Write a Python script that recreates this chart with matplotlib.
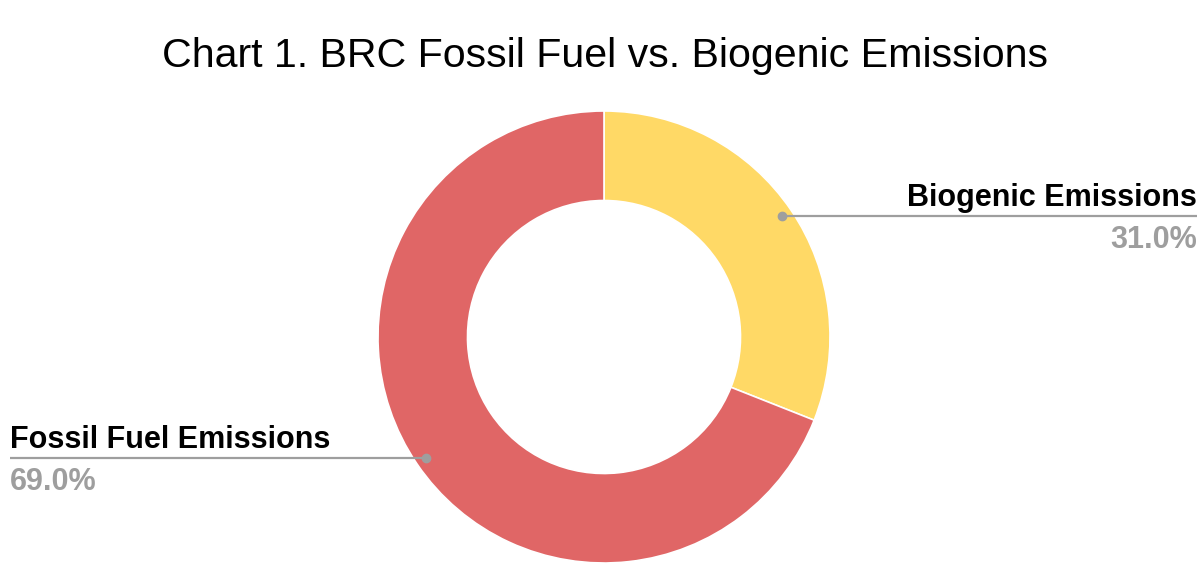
import numpy as np
import matplotlib
matplotlib.use('agg')
import matplotlib.pyplot as plt

plt.rcParams['font.family'] = ['Liberation Sans', 'DejaVu Sans']

title = 'Chart 1. BRC Fossil Fuel vs. Biogenic Emissions'
labels = ['Biogenic Emissions', 'Fossil Fuel Emissions']
values = [31.0, 69.0]
colors = ['#ffd966', '#e06666']

W, H = 1200, 565
cx, cy, R = 604, 337, 226  # donut centre / radius in pixels

fig = plt.figure(figsize=(W / 100, H / 100), dpi=100)
ax = fig.add_axes([(cx - R) / W, (H - cy - R) / H, 2 * R / W, 2 * R / H])
wedges, _ = ax.pie(values, colors=colors, startangle=90, counterclock=False,
                   radius=1, wedgeprops=dict(width=0.396, edgecolor='white', linewidth=1.2))
ax.set_xlim(-1, 1)
ax.set_ylim(-1, 1)
ax.set_aspect('equal')
ax.axis('off')

fig.text(604.5 / W, 1 - 67 / H, title, ha='center', va='baseline', fontsize=29.6, color='black')

# leader lines + labels, x in data units (1 unit = R px)
x_right = (1197 - cx) / R
x_left = (10 - cx) / R
for w, lab, val in zip(wedges, labels, values):
    ang = np.deg2rad((w.theta1 + w.theta2) / 2)
    px, py = 0.953 * np.cos(ang), 0.953 * np.sin(ang)
    if px > 0:
        xe, ha = x_right, 'right'
    else:
        xe, ha = x_left, 'left'
    ax.plot([px, xe], [py, py], color='#9e9e9e', lw=1.6, clip_on=False, solid_capstyle='butt')
    ax.plot([px], [py], 'o', color='#9e9e9e', ms=6, clip_on=False)
    ax.text(xe, py + 10 / R, lab, ha=ha, va='baseline', fontsize=22,
            fontweight='bold', color='black', clip_on=False)
    ax.text(xe, py - 32 / R, f'{val:.1f}%', ha=ha, va='baseline', fontsize=22,
            fontweight='bold', color='#9e9e9e', clip_on=False)

fig.savefig('out.png', dpi=100, facecolor='white')
plt.close(fig)
